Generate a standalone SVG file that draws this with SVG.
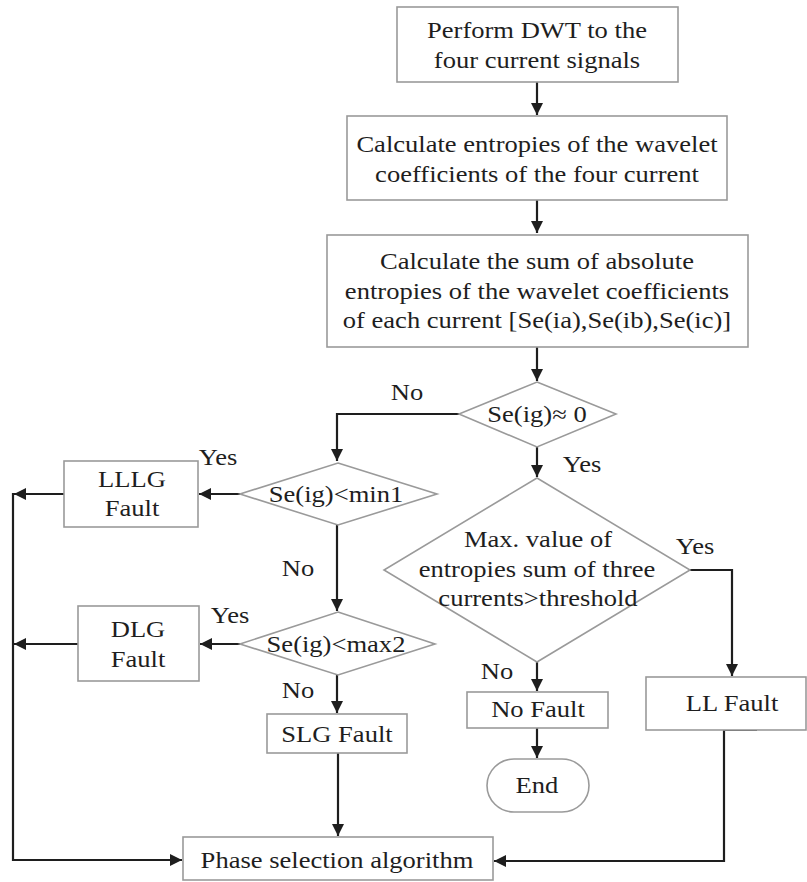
<svg xmlns="http://www.w3.org/2000/svg" width="807" height="882" viewBox="0 0 807 882">
<defs>
<style>
.box{fill:#fff;stroke:#9a9a9a;stroke-width:1.6}
.con{fill:none;stroke:#1e1e1e;stroke-width:2.2}
text{font-family:"Liberation Serif","Times New Roman",serif;font-size:23px;fill:#1e1e1e;text-anchor:middle}
</style>
<marker id="ah" markerUnits="userSpaceOnUse" markerWidth="13" markerHeight="12" refX="12" refY="6" orient="auto">
<path d="M0,0 L12,6 L0,12 z" fill="#1e1e1e"/>
</marker>
</defs>
<rect width="807" height="882" fill="#fff"/>

<g id="connectors">
<path class="con" d="M537,82 V115" marker-end="url(#ah)"/>
<path class="con" d="M537,200 V233" marker-end="url(#ah)"/>
<path class="con" d="M537,347 V381" marker-end="url(#ah)"/>
<path class="con" d="M460,414 H337 V461" marker-end="url(#ah)"/>
<path class="con" d="M537,447 V477" marker-end="url(#ah)"/>
<path class="con" d="M240,494 H199" marker-end="url(#ah)"/>
<path class="con" d="M64,494 H14" marker-end="url(#ah)"/>
<path class="con" d="M337,525 V611" marker-end="url(#ah)"/>
<path class="con" d="M240,644 H200" marker-end="url(#ah)"/>
<path class="con" d="M78,644 H14" marker-end="url(#ah)"/>
<path class="con" d="M337,675 V713" marker-end="url(#ah)"/>
<path class="con" d="M338,753 V836" marker-end="url(#ah)"/>
<path class="con" d="M690,570 H732 V676" marker-end="url(#ah)"/>
<path class="con" d="M537,662 V691" marker-end="url(#ah)"/>
<path class="con" d="M537,728 V758" marker-end="url(#ah)"/>
<path class="con" d="M13,493 V860 H182" marker-end="url(#ah)"/>
<path class="con" d="M757,730 H724 V861 H494" marker-end="url(#ah)"/>
</g>

<g id="n_dwt">
<rect class="box" x="397" y="7" width="281" height="75"/>
<text transform="translate(537,38) scale(1.155,1)">Perform DWT to the</text>
<text transform="translate(537,68) scale(1.155,1)">four current signals</text>
</g>

<g id="n_entropy">
<rect class="box" x="347" y="116" width="380" height="84"/>
<text transform="translate(537,152) scale(1.155,1)">Calculate entropies of the wavelet</text>
<text transform="translate(537,182) scale(1.155,1)">coefficients of the four current</text>
</g>

<g id="n_sum">
<rect class="box" x="327" y="235" width="421" height="112"/>
<text transform="translate(537,269) scale(1.155,1)">Calculate the sum of absolute</text>
<text transform="translate(537,299) scale(1.155,1)">entropies of the wavelet coefficients</text>
<text transform="translate(537,328) scale(1.155,1)">of each current [Se(ia),Se(ib),Se(ic)]</text>
</g>

<g id="d_zero">
<polygon class="box" points="537,382 616,414 537,447 459,414"/>
<text transform="translate(537,422) scale(1.155,1)">Se(ig)≈ 0</text>
</g>

<g id="d_min1">
<polygon class="box" points="338,463 437,494 338,525 240,494"/>
<text transform="translate(336,502) scale(1.155,1)">Se(ig)&lt;min1</text>
</g>

<g id="n_lllg">
<rect class="box" x="64" y="461" width="134" height="66"/>
<text transform="translate(132,487) scale(1.155,1)">LLLG</text>
<text transform="translate(132,516) scale(1.155,1)">Fault</text>
</g>

<g id="d_max2">
<polygon class="box" points="338,612 435,644 338,675 240,644"/>
<text transform="translate(336,652) scale(1.155,1)">Se(ig)&lt;max2</text>
</g>

<g id="n_dlg">
<rect class="box" x="78" y="606" width="121" height="75"/>
<text transform="translate(138,637) scale(1.155,1)">DLG</text>
<text transform="translate(138,667) scale(1.155,1)">Fault</text>
</g>

<g id="n_slg">
<rect class="box" x="267" y="714" width="140" height="39"/>
<text transform="translate(337,742) scale(1.155,1)">SLG Fault</text>
</g>

<g id="d_max">
<polygon class="box" points="537,478 690,570 537,662 384,570"/>
<text transform="translate(538,547) scale(1.155,1)">Max. value of</text>
<text transform="translate(537,577) scale(1.155,1)">entropies sum of three</text>
<text transform="translate(538,606) scale(1.155,1)">currents&gt;threshold</text>
</g>

<g id="n_nofault">
<rect class="box" x="467" y="692" width="141" height="36"/>
<text transform="translate(538,717) scale(1.155,1)">No Fault</text>
</g>

<g id="n_end">
<rect class="box" x="487" y="759" width="102" height="53" rx="27" ry="26.5"/>
<text transform="translate(537,793) scale(1.155,1)">End</text>
</g>

<g id="n_ll">
<rect class="box" x="646" y="677" width="160" height="53"/>
<text transform="translate(732,711) scale(1.155,1)">LL Fault</text>
</g>

<g id="n_phase">
<rect class="box" x="183" y="837" width="310" height="43"/>
<text transform="translate(337,868) scale(1.155,1)">Phase selection algorithm</text>
</g>

<g id="labels">
<text transform="translate(407,400) scale(1.155,1)">No</text>
<text transform="translate(582,472) scale(1.155,1)">Yes</text>
<text transform="translate(218,465) scale(1.155,1)">Yes</text>
<text transform="translate(298,576) scale(1.155,1)">No</text>
<text transform="translate(230,623) scale(1.155,1)">Yes</text>
<text transform="translate(298,698) scale(1.155,1)">No</text>
<text transform="translate(695,554) scale(1.155,1)">Yes</text>
<text transform="translate(497,679) scale(1.155,1)">No</text>
</g>
</svg>
